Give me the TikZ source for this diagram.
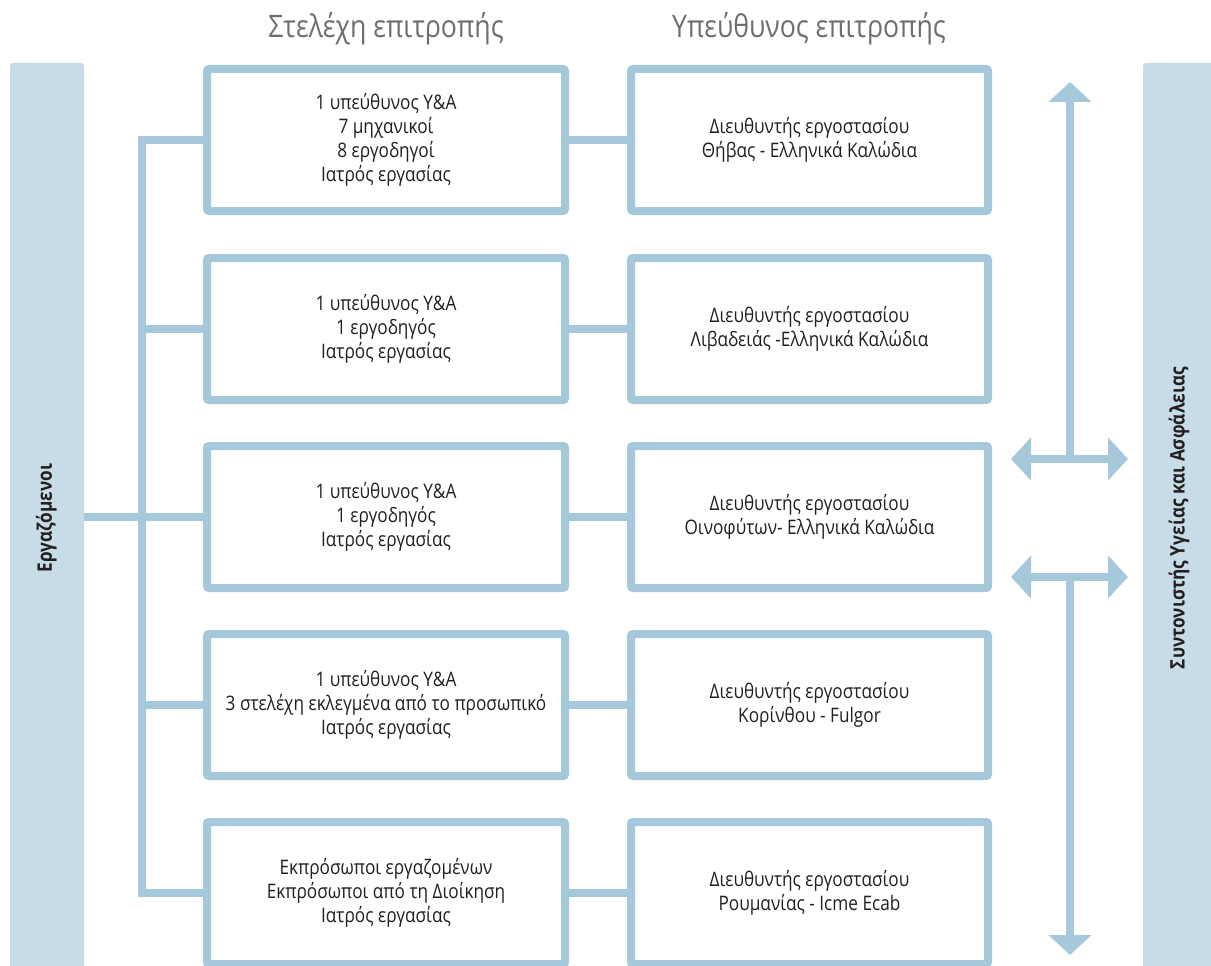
\documentclass[tikz,border=0pt]{standalone}
\usepackage{fontspec}
\setmainfont{Open Sans}[FakeStretch=0.86]
\usetikzlibrary{arrows.meta}
\definecolor{LineBlue}{HTML}{A6C8DB}
\definecolor{BarBlue}{HTML}{C7DCE6}
\definecolor{TextDark}{HTML}{231F20}
\definecolor{HeadGray}{HTML}{6D6E71}
\tikzset{
  stbox/.style={draw=LineBlue,fill=white,line width=8pt,rounded corners=2pt,
    minimum width=358pt,minimum height=142pt,align=center,
    font=\fontsize{20}{24}\selectfont,text=TextDark,inner sep=0pt},
  hdbox/.style={stbox,minimum width=357pt},
  sidebar/.style={fill=BarBlue,rounded corners=3pt,rotate=90,
    minimum width=910pt,inner sep=0pt,
    font=\fontsize{20}{24}\selectfont\bfseries,text=TextDark},
  colhead/.style={font=\fontsize{31}{34}\selectfont,text=HeadGray},
  link/.style={draw=LineBlue,line width=8pt},
  flow/.style={draw=LineBlue,line width=8pt,
    arrows={-Triangle[width=42pt,length=20pt]}},
  flowboth/.style={draw=LineBlue,line width=8pt,
    arrows={Triangle[width=42pt,length=20pt]-Triangle[width=42pt,length=20pt]}},
}

\begin{document}
\begin{tikzpicture}[x=1pt,y=-1pt]
  \useasboundingbox (0,0) rectangle (1211,966);
  % column titles
  \node[colhead] (t1) at (386,29) {Στελέχη επιτροπής};
  \node[colhead] (t2) at (809,29) {Υπεύθυνος επιτροπής};
  % side bars
  \node[sidebar,minimum height=74pt,text depth=6pt] (workers) at (47,518) {Εργαζόμενοι};
  \node[sidebar,minimum height=72pt] (coord) at (1179,518) {Συντονιστής Υγείας και Ασφάλειας};
  % committee members
  \node[stbox] (st1) at (386,140) {1 υπεύθυνος Υ\&Α\\7 μηχανικοί\\8 εργοδηγοί\\Ιατρός εργασίας};
  \node[stbox] (st2) at (386,329) {1 υπεύθυνος Υ\&Α\\1 εργοδηγός\\Ιατρός εργασίας};
  \node[stbox] (st3) at (386,517) {1 υπεύθυνος Υ\&Α\\1 εργοδηγός\\Ιατρός εργασίας};
  \node[stbox] (st4) at (386,705) {1 υπεύθυνος Υ\&Α\\3 στελέχη εκλεγμένα από το προσωπικό\\Ιατρός εργασίας};
  \node[stbox] (st5) at (386,893) {Εκπρόσωποι εργαζομένων\\Εκπρόσωποι από τη Διοίκηση\\Ιατρός εργασίας};
  % committee heads
  \node[hdbox] (hd1) at (809.5,140) {Διευθυντής εργοστασίου\\Θήβας - Ελληνικά Καλώδια};
  \node[hdbox] (hd2) at (809.5,329) {Διευθυντής εργοστασίου\\Λιβαδειάς -Ελληνικά Καλώδια};
  \node[hdbox] (hd3) at (809.5,517) {Διευθυντής εργοστασίου\\Οινοφύτων- Ελληνικά Καλώδια};
  \node[hdbox] (hd4) at (809.5,705) {Διευθυντής εργοστασίου\\Κορίνθου - Fulgor};
  \node[hdbox] (hd5) at (809.5,893) {Διευθυντής εργοστασίου\\Ρουμανίας - Icme Ecab};
  % tree on the left
  \coordinate (trunk) at (142,140);
  \draw[link,line join=miter] (st1.west) -- (st1.west -| trunk) -- (st5.west -| trunk) -- (st5.west);
  \draw[link] (st2.west -| trunk) -- (st2.west);
  \draw[link] (workers.south |- st3.west) -- (st3.west);
  \draw[link] (st4.west -| trunk) -- (st4.west);
  % members to heads
  \draw[link] (st1.east) -- (hd1.west);
  \draw[link] (st2.east) -- (hd2.west);
  \draw[link] (st3.east) -- (hd3.west);
  \draw[link] (st4.east) -- (hd4.west);
  \draw[link] (st5.east) -- (hd5.west);
  % arrows on the right
  \coordinate (upTip) at (1070,82);
  \coordinate (downTip) at (1070,955);
  \coordinate (hubA) at (1070,459);
  \coordinate (hubB) at (1070,577);
  \coordinate (hubAL) at (1011,459);
  \coordinate (hubAR) at (1128,459);
  \coordinate (hubBL) at (1011,577);
  \coordinate (hubBR) at (1128,577);
  \draw[flow] (hubA) -- (upTip);
  \draw[flow] (hubB) -- (downTip);
  \draw[flowboth] (hubAL) -- (hubAR);
  \draw[flowboth] (hubBL) -- (hubBR);
\end{tikzpicture}
\end{document}
